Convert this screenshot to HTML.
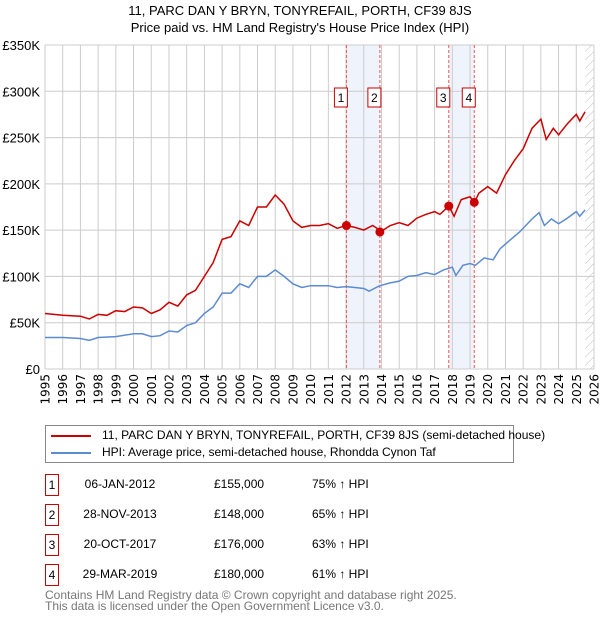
<!DOCTYPE html>
<html><head><meta charset="utf-8"><style>
body{margin:0;background:#fff;font-family:"Liberation Sans","DejaVu Sans",sans-serif;}
#wrap{position:relative;width:600px;height:620px;overflow:hidden}
.t{position:absolute;font-size:12px;color:#000;white-space:nowrap}
.nb{position:absolute;width:12px;height:20px;border:1px solid #c00;font-size:12px;text-align:center;line-height:20px}
</style></head><body><div id="wrap">
<div class="t" style="left:0;width:600px;text-align:center;top:3px;font-size:13px">11, PARC DAN Y BRYN, TONYREFAIL, PORTH, CF39 8JS</div>
<div class="t" style="left:0;width:600px;text-align:center;top:20px;font-size:13px">Price paid vs. HM Land Registry's House Price Index (HPI)</div>
<svg id="chart" width="600" height="420" style="position:absolute;left:0;top:0"></svg>
<div style="position:absolute;left:45px;top:425px;width:467px;height:36px;border:1px solid #888">
<div style="position:absolute;left:5px;top:9px;width:40px;height:2px;background:#c00"></div>
<div class="t" style="left:56px;top:2px">11, PARC DAN Y BRYN, TONYREFAIL, PORTH, CF39 8JS (semi-detached house)</div>
<div style="position:absolute;left:5px;top:26px;width:40px;height:2px;background:#5b8bd0"></div>
<div class="t" style="left:56px;top:19px">HPI: Average price, semi-detached house, Rhondda Cynon Taf</div>
</div>
<div id="tbl"></div>
<div class="t" style="left:45px;top:590px;color:#777;line-height:11px">Contains HM Land Registry data © Crown copyright and database right 2025.<br>This data is licensed under the Open Government Licence v3.0.</div>
</div>
<script>
const redYears=[1995,1996,1997,1997.5,1998,1998.5,1999,1999.5,2000,2000.5,2001,2001.5,2002,2002.5,2003,2003.5,2004,2004.5,2005,2005.5,2006,2006.5,2007,2007.5,2008,2008.5,2009,2009.5,2010,2010.5,2011,2011.5,2012,2012.5,2013,2013.5,2014,2014.5,2015,2015.5,2016,2016.5,2017,2017.3,2017.8,2018.1,2018.5,2019,2019.25,2019.5,2020,2020.5,2021,2021.5,2022,2022.5,2023,2023.3,2023.7,2024,2024.5,2025,2025.2,2025.5];
const redVals=[60,58,57,54,59,58,63,62,67,66,60,64,72,68,80,85,100,115,140,143,160,155,175,175,188,178,160,153,155,155,157,152,155,153,150,155,149,155,158,155,163,167,170,167,176,165,183,186,180,190,197,190,210,225,238,260,270,248,260,253,265,275,268,278];
const hpiYears=[1995,1996,1997,1997.5,1998,1999,2000,2000.5,2001,2001.5,2002,2002.5,2003,2003.5,2004,2004.5,2005,2005.5,2006,2006.5,2007,2007.5,2008,2008.5,2009,2009.5,2010,2010.5,2011,2011.5,2012,2012.5,2013,2013.3,2013.9,2014.5,2015,2015.5,2016,2016.5,2017,2017.5,2018,2018.2,2018.6,2019,2019.3,2019.8,2020.3,2020.7,2021.3,2021.8,2022.5,2022.9,2023.2,2023.6,2024,2024.5,2025,2025.2,2025.5];
const hpiVals=[34,34,33,31,34,35,38,38,35,36,41,40,47,50,60,67,82,82,92,88,100,100,107,100,92,88,90,90,90,88,89,88,87,84,90,93,95,100,101,104,102,107,110,101,112,114,112,120,118,130,140,148,162,169,155,162,157,163,170,165,172];
const saleYears=[2012.02,2013.91,2017.8,2019.24];
const saleVals=[155,148,176,180];
const saleLabels=["1","2","3","4"];
const saleDates=["06-JAN-2012","28-NOV-2013","20-OCT-2017","29-MAR-2019"];
const salePrices=["£155,000","£148,000","£176,000","£180,000"];
const saleHpi=["75% ↑ HPI","65% ↑ HPI","63% ↑ HPI","61% ↑ HPI"];
const yTicks=[0,50,100,150,200,250,300,350];
const yTickLabels=["£0","£50K","£100K","£150K","£200K","£250K","£300K","£350K"];
const xTicks=[1995,1996,1997,1998,1999,2000,2001,2002,2003,2004,2005,2006,2007,2008,2009,2010,2011,2012,2013,2014,2015,2016,2017,2018,2019,2020,2021,2022,2023,2024,2025,2026];

const X0=45,X1=594,Y0=369,Y1=45;
const xs=y=>X0+(y-1995)/31*(X1-X0);
const ys=v=>Y0-v/350*(Y0-Y1);
const NS="http://www.w3.org/2000/svg";
const svg=document.getElementById('chart');
function mk(tag,attrs,parent){const e=document.createElementNS(NS,tag);for(const k in attrs)e.setAttribute(k,attrs[k]);(parent||svg).appendChild(e);return e;}
for(const [a,b] of [[0,1],[2,3]]){
 const r=mk('rect',{x:xs(saleYears[a]),y:Y1,width:xs(saleYears[b])-xs(saleYears[a]),height:Y0-Y1,fill:'#eef3fc'});
 
 
}
const defs=mk('defs',{});
const pat=mk('pattern',{id:'h',width:6,height:6,patternUnits:'userSpaceOnUse',patternTransform:'rotate(45)'},defs);
mk('line',{x1:0,y1:0,x2:0,y2:6,stroke:'#bbb','stroke-width':1},pat);
const hr=mk('rect',{x:xs(2025.5),y:Y1,width:X1-xs(2025.5),height:Y0-Y1,fill:'url(#h)'});


xTicks.forEach(t=>{
 const l=mk('line',{x1:xs(t),x2:xs(t),y1:Y1,y2:Y0,stroke:'#ccc','stroke-width':1});
 
 
 const tx=mk('text',{x:0,y:0,'font-size':12,'text-anchor':'end','font-family':'DejaVu Sans, sans-serif',transform:`translate(${xs(t)+4.5},374) rotate(-90)`});
 tx.textContent=t;
 
 
});
yTicks.forEach((t,i)=>{
 const l=mk('line',{x1:X0,x2:X1,y1:ys(t),y2:ys(t),stroke:'#ccc','stroke-width':1});
 
 
 const tx=mk('text',{x:40,y:ys(t)+5,'font-size':13,'text-anchor':'end','font-family':'Liberation Sans, sans-serif'});
 tx.textContent=yTickLabels[i];
 
 
});
saleYears.forEach((s,i)=>{
 const l=mk('line',{x1:xs(s),x2:xs(s),y1:Y1,y2:Y0,stroke:'#e55','stroke-width':1,'stroke-dasharray':'3,2'});
 
 
});
function path(xa,va,col,name){
 const d=xa.map((x,i)=>(i?'L':'M')+xs(x).toFixed(1)+','+ys(va[i]).toFixed(1)).join('');
 const p=mk('path',{d:d,fill:'none',stroke:col,'stroke-width':1.5});
 
 
}
path(hpiYears,hpiVals,'#5b8bd0','hpi-line');
path(redYears,redVals,'#cc0000','property-price-line');
saleYears.forEach((s,i)=>{
 const c=mk('circle',{cx:xs(s),cy:ys(saleVals[i]),r:4.5,fill:'#cc0000'});
 
 
 const g=mk('rect',{x:xs(s)-12,y:88,width:13,height:19,fill:'#fff',stroke:'#cc0000'});
 
 
 const tx=mk('text',{x:xs(s)-5.5,y:102,'font-size':12,'text-anchor':'middle','font-family':'Liberation Sans, sans-serif'});
 tx.textContent=saleLabels[i];
 
 
});
const tbl=document.getElementById('tbl');
saleLabels.forEach((n,i)=>{
 const top=474+i*30;
 const row=document.createElement('div');
 
 
 row.innerHTML=`<div class="nb" style="left:45px;top:${top}px">${n}</div>
 <div class="t" style="left:70px;width:100px;text-align:center;top:${top+3}px">${saleDates[i]}</div>
 <div class="t" style="left:214px;top:${top+3}px">${salePrices[i]}</div>
 <div class="t" style="left:312px;top:${top+3}px">${saleHpi[i]}</div>`;
 tbl.appendChild(row);
});
</script></body></html>
